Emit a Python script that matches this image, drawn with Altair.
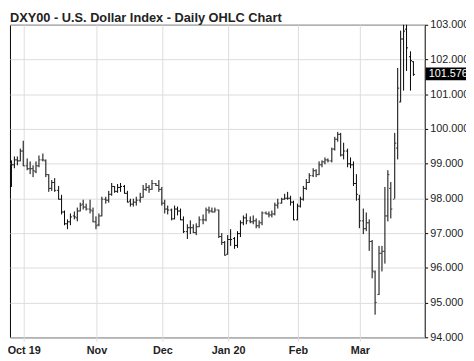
import altair as alt
import pandas as pd

TITLE = "DXY00 - U.S. Dollar Index - Daily OHLC Chart"

# trading days (ICE session calendar: weekdays minus Christmas and New Year)
dates = [d for d in pd.bdate_range("2019-09-25", "2020-03-25")
         if d.strftime("%m-%d") not in ("12-25", "01-01")]

opens = [98.37, 98.98, 99.11, 99.10, 99.38, 98.96, 98.88, 98.86, 98.78, 98.96,
         99.13, 99.10, 98.69, 98.30, 98.46, 98.24, 98.00, 97.62, 97.27, 97.35,
         97.50, 97.46, 97.66, 97.85, 97.76, 97.70, 97.66, 97.35, 97.25, 97.50,
         97.98, 97.96, 98.13, 98.35, 98.23, 98.32, 98.36, 98.15, 97.92, 97.86,
         97.90, 97.95, 98.05, 98.28, 98.32, 98.26, 98.44, 98.38, 98.27, 97.88,
         97.70, 97.67, 97.43, 97.70, 97.65, 97.41, 97.07, 97.18, 97.16, 97.03,
         97.21, 97.41, 97.40, 97.67, 97.66, 97.63, 97.67, 96.92, 96.74, 96.40,
         96.84, 96.85, 96.66, 97.00, 97.30, 97.44, 97.36, 97.35, 97.38, 97.22,
         97.32, 97.60, 97.56, 97.55, 97.56, 97.83, 97.87, 97.98, 98.02, 98.02,
         97.90, 97.40, 97.79, 98.00, 98.30, 98.48, 98.68, 98.80, 98.71, 98.99,
         99.07, 99.11, 99.09, 99.42, 99.73, 99.86, 99.26, 99.37, 99.02, 98.97,
         98.43, 97.98, 97.36, 97.15, 97.30, 96.77, 95.90, 95.25, 96.43, 96.48,
         97.50, 98.30, 98.00, 99.45, 100.80, 102.60, 102.90, 102.10, 101.95]
highs = [99.09, 99.22, 99.21, 99.44, 99.67, 99.15, 99.07, 98.95, 99.07, 99.24,
         99.29, 99.12, 98.71, 98.52, 98.59, 98.35, 98.10, 97.64, 97.41, 97.58,
         97.62, 97.73, 97.89, 97.95, 97.84, 97.95, 97.73, 97.48, 97.58, 98.04,
         98.05, 98.22, 98.43, 98.37, 98.42, 98.45, 98.40, 98.22, 97.98, 97.99,
         98.04, 98.16, 98.38, 98.43, 98.40, 98.52, 98.45, 98.54, 98.32, 97.96,
         97.80, 97.71, 97.80, 97.76, 97.70, 97.48, 97.25, 97.36, 97.26, 97.28,
         97.47, 97.55, 97.74, 97.77, 97.73, 97.73, 97.68, 96.99, 96.76, 96.93,
         97.11, 96.89, 97.06, 97.36, 97.52, 97.57, 97.47, 97.51, 97.42, 97.36,
         97.62, 97.62, 97.61, 97.65, 97.88, 97.98, 98.03, 98.13, 98.19, 98.07,
         97.93, 97.84, 98.05, 98.36, 98.56, 98.73, 98.87, 98.85, 99.06, 99.10,
         99.18, 99.15, 99.47, 99.77, 99.91, 99.88, 99.60, 99.44, 99.17, 99.07,
         98.70, 98.09, 97.71, 97.60, 97.40, 96.80, 95.92, 96.62, 96.62, 98.32,
         98.82, 98.46, 99.88, 101.76, 102.83, 102.99, 102.99, 102.24, 101.96]
lows = [98.33, 98.87, 98.96, 99.08, 98.92, 98.82, 98.70, 98.62, 98.72, 98.90,
        99.06, 98.61, 98.20, 98.22, 98.19, 97.95, 97.54, 97.24, 97.11, 97.24,
        97.41, 97.34, 97.61, 97.69, 97.65, 97.56, 97.32, 97.12, 97.20, 97.48,
        97.86, 97.87, 98.07, 98.15, 98.16, 98.19, 98.12, 97.87, 97.77, 97.76,
        97.80, 97.88, 98.02, 98.22, 98.17, 98.25, 98.35, 98.20, 97.80, 97.58,
        97.55, 97.37, 97.40, 97.52, 97.38, 97.00, 96.83, 96.97, 96.99, 96.95,
        97.17, 97.26, 97.35, 97.57, 97.60, 97.59, 96.86, 96.65, 96.36, 96.39,
        96.63, 96.54, 96.58, 96.88, 97.22, 97.25, 97.28, 97.25, 97.15, 97.14,
        97.24, 97.53, 97.45, 97.46, 97.50, 97.72, 97.85, 97.96, 97.95, 97.79,
        97.36, 97.38, 97.73, 97.93, 98.24, 98.45, 98.60, 98.62, 98.66, 98.91,
        98.98, 99.04, 99.03, 99.38, 99.63, 99.21, 99.12, 98.89, 98.87, 98.35,
        97.93, 97.15, 96.96, 97.05, 96.50, 95.70, 94.65, 95.21, 95.90, 96.11,
        97.33, 97.43, 97.99, 99.12, 100.77, 101.10, 101.67, 101.10, 101.52]
closes = [98.98, 99.12, 99.10, 99.38, 98.95, 98.86, 98.87, 98.80, 98.96, 99.13,
          99.11, 98.70, 98.30, 98.47, 98.24, 98.00, 97.61, 97.28, 97.35, 97.49,
          97.47, 97.66, 97.83, 97.76, 97.70, 97.67, 97.35, 97.23, 97.50, 97.98,
          97.97, 98.12, 98.35, 98.23, 98.32, 98.37, 98.15, 97.90, 97.85, 97.91,
          97.95, 98.05, 98.28, 98.32, 98.26, 98.45, 98.39, 98.27, 97.88, 97.70,
          97.67, 97.43, 97.70, 97.65, 97.41, 97.07, 97.18, 97.16, 97.03, 97.21,
          97.41, 97.40, 97.67, 97.66, 97.63, 97.67, 96.92, 96.74, 96.39, 96.84,
          96.84, 96.66, 97.00, 97.30, 97.44, 97.36, 97.35, 97.38, 97.22, 97.32,
          97.60, 97.56, 97.55, 97.56, 97.83, 97.87, 97.98, 98.02, 98.02, 97.90,
          97.39, 97.79, 97.99, 98.30, 98.48, 98.68, 98.80, 98.71, 98.99, 99.07,
          99.11, 99.09, 99.42, 99.73, 99.87, 99.26, 99.37, 99.02, 98.97, 98.43,
          98.13, 97.36, 97.15, 97.30, 96.77, 95.93, 95.02, 96.43, 96.48, 97.50,
          98.70, 97.70, 99.59, 101.19, 102.60, 102.82, 102.35, 101.99, 101.576]

month_labels = ["Oct 19", "Nov", "Dec", "Jan 20", "Feb", "Mar"]
y_ticks = [94, 95, 96, 97, 98, 99, 100, 101, 102, 103]

n = len(closes)
df = pd.DataFrame({"i": list(range(n)), "open": opens, "high": highs,
                   "low": lows, "close": closes})

# first trading day of each month
month_idx = [k for k in range(1, n) if dates[k].month != dates[k - 1].month]
label_expr = " : ".join(f"datum.value == {k} ? '{lab}'"
                        for k, lab in zip(month_idx, month_labels)) + " : ''"

FONT = "Liberation Sans"

xscale = alt.Scale(domain=[-0.5, 131.5], nice=False, zero=False, round=True)
yscale = alt.Scale(domain=[94, 103], nice=False, zero=False, round=True)

xaxis = alt.Axis(values=month_idx, labelExpr=label_expr, title=None,
                 grid=True, gridColor="#dcdcdc", domain=False,
                 tickColor="#dcdcdc", tickSize=4, labelPadding=3,
                 labelOverlap=False, labelFlush=False,
                 labelFont=FONT, labelFontSize=11, labelFontWeight="bold",
                 labelColor="#222222")
yaxis = alt.Axis(orient="right", values=y_ticks, format=".3f", title=None,
                 grid=True, gridColor="#dcdcdc", domain=False,
                 tickColor="#000000", tickSize=3, labelPadding=2,
                 labelOverlap=False, labelFlush=False,
                 labelFont=FONT, labelFontSize=11, labelColor="#222222")

X = alt.X("i:Q", scale=xscale, axis=xaxis)


def Y(field):
    return alt.Y(field, scale=yscale, axis=yaxis)


base = alt.Chart(df)

hl = base.mark_rule(color="black", strokeWidth=1, xOffset=-0.5).encode(
    x=X, y=Y("low:Q"), y2="high:Q",
)
op = base.mark_rule(color="black", strokeWidth=1, xOffset=-2, x2Offset=-1,
                    yOffset=0.5).encode(
    x=X, x2="i:Q", y=Y("open:Q"),
)
cl = base.mark_rule(color="black", strokeWidth=1, xOffset=0, x2Offset=1,
                    yOffset=0.5).encode(
    x=X, x2="i:Q", y=Y("close:Q"),
)

last = pd.DataFrame({"v": [closes[-1]], "t": [f"{closes[-1]:.3f}"]})
box = alt.Chart(last).mark_rule(color="black", strokeWidth=13).encode(
    x=alt.value(423), x2=alt.value(470), y=Y("v:Q"),
)
boxtext = alt.Chart(last).mark_text(align="left", baseline="middle",
                                    color="white", font=FONT, fontSize=11).encode(
    x=alt.value(426), y=Y("v:Q"), text="t:N",
)

tdf = pd.DataFrame({"t": [TITLE]})
title = alt.Chart(tdf).mark_text(align="left", baseline="alphabetic",
                                 font=FONT, fontSize=13, fontWeight="bold",
                                 color="#222222").encode(
    x=alt.value(0), y=alt.value(-3), text="t:N")

chart = alt.layer(hl, op, cl, box, boxtext, title).properties(
    width=422, height=318,
    autosize=alt.AutoSizeParams(type="none"),
    padding={"left": 2, "top": 14, "right": 42, "bottom": 18},
    background="white",
).configure_view(stroke="black", strokeWidth=1)

chart.save("out.html", embed_options={"renderer": "svg", "actions": False})
